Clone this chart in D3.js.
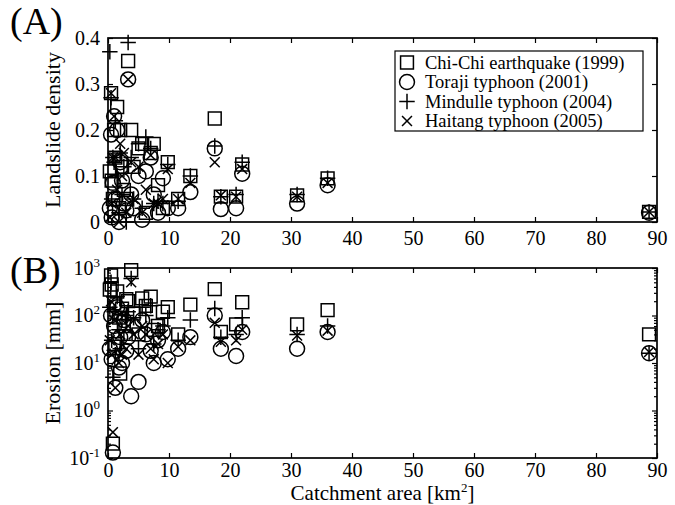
<!DOCTYPE html>
<html>
<head>
<meta charset="utf-8">
<script src="https://cdn.jsdelivr.net/npm/d3@7"></script>
<style>
  body { margin: 0; background: #fff; }
  svg text { font-family: "Liberation Serif", "Times New Roman", serif; fill: #000; }
</style>
</head>
<body>
<div id="chart"></div>
<script>
// catchment areas (km2), shared by every event
const areas = [0.3, 0.5, 0.6, 0.8, 1.0, 1.2, 1.5, 1.8, 2.0, 2.3, 2.6, 3.0, 3.3, 3.8, 4.2, 5.0,
  5.6, 6.2, 7.0, 7.5, 8.2, 9.0, 9.8, 11.5, 13.5, 17.5, 18.5, 21.0, 22.0, 31.0, 36.0, 88.7];

const seriesNames = ["Chi-Chi earthquake (1999)", "Toraji typhoon (2001)", "Mindulle typhoon (2004)", "Haitang typhoon (2005)"];

// landslide density per catchment
const densityChiChi   = [0.11, 0.28, 0.09, 0.05, 0.20, 0.14, 0.25, 0.03, 0.20, 0.12, 0.07, 0.05, 0.35, 0.20, 0.12, 0.16,
  0.17, 0.02, 0.15, 0.17, 0.08, 0.03, 0.13, 0.05, 0.10, 0.225, 0.055, 0.055, 0.125, 0.058, 0.095, 0.022];
const densityToraji   = [0.03, 0.19, 0.01, 0.085, 0.23, 0.05, 0.20, 0.00, 0.13, 0.09, 0.04, 0.025, 0.31, 0.06, 0.03, 0.10,
  0.005, 0.11, 0.14, 0.06, 0.02, 0.095, 0.03, 0.03, 0.065, 0.16, 0.028, 0.03, 0.105, 0.04, 0.08, 0.02];
const densityMindulle = [0.37, 0.27, 0.05, 0.14, 0.13, 0.22, 0.10, 0.02, 0.15, 0.06, 0.12, 0.00, 0.39, 0.14, 0.05, 0.17,
  0.03, 0.185, 0.16, 0.04, 0.045, 0.04, 0.125, 0.045, 0.10, 0.165, 0.055, 0.06, 0.13, 0.06, 0.095, 0.022];
const densityHaitang  = [0.01, 0.28, 0.04, 0.14, 0.23, 0.14, 0.07, 0.00, 0.17, 0.10, 0.15, 0.02, 0.31, 0.13, 0.05, 0.12,
  0.02, 0.07, 0.145, 0.04, 0.04, 0.05, 0.115, 0.05, 0.085, 0.13, 0.058, 0.055, 0.115, 0.055, 0.085, 0.022];

// erosion (mm) per catchment
const erosionChiChi   = [350, 700, 450, 0.2, 180, 25, 320, 90, 6, 140, 60, 220, 200, 900, 110, 40,
  230, 160, 250, 50, 60, 120, 150, 40, 170, 360, 45, 65, 190, 65, 130, 40];
const erosionToraji   = [20, 100, 12, 0.13, 60, 3, 150, 8, 35, 10, 80, 18, 35, 2, 60, 4,
  80, 40, 18, 10, 30, 45, 12, 20, 35, 100, 20, 14, 45, 20, 45, 16];
const erosionMindulle = [150, 500, 30, 5, 120, 15, 250, 50, 20, 80, 30, 100, 120, 600, 90, 20,
  150, 100, 160, 25, 50, 60, 90, 30, 80, 140, 35, 40, 90, 40, 60, 16];
const erosionHaitang  = [30, 200, 15, 0.35, 80, 3, 120, 10, 40, 15, 100, 20, 60, 500, 40, 15,
  60, 40, 20, 12, 25, 40, 10, 22, 30, 70, 28, 30, 50, 38, 48, 17];

const xTicks = [0, 10, 20, 30, 40, 50, 60, 70, 80, 90];
const densityTicks = [0, 0.1, 0.2, 0.3, 0.4];
const erosionTicks = [0.1, 1, 10, 100, 1000];

const densities = [densityChiChi, densityToraji, densityMindulle, densityHaitang];
const erosions = [erosionChiChi, erosionToraji, erosionMindulle, erosionHaitang];
const symbols = [d3.symbolSquare, d3.symbolCircle, d3.symbolPlus, d3.symbolTimes];
const symbolSizes = [165, 175, 80, 66];

const W = 675, H = 505;
const left = 108, right = 657;
const topA = 38, bottomA = 222;
const topB = 268, bottomB = 458;
const fs = 20;

const svg = d3.select("#chart").append("svg")
  .attr("width", W).attr("height", H);

const x = d3.scaleLinear().domain([0, 90]).range([left, right]);
const yA = d3.scaleLinear().domain([0, 0.4]).range([bottomA, topA]);
const yB = d3.scaleLog().domain([0.1, 1000]).range([bottomB, topB]);

function sym(i) { return d3.symbol().type(symbols[i]).size(symbolSizes[i])(); }

// box + ticks for one panel
function frame(y, top, bottom, yTickVals, yFormat, minor, xPad) {
  const g = svg.append("g");
  // x ticks, bottom and top, pointing inward
  g.append("g").attr("transform", `translate(0,${bottom})`)
    .call(d3.axisBottom(x).tickValues(xTicks).tickSize(-5).tickPadding(xPad).tickFormat(d3.format("d")));
  g.append("g").attr("transform", `translate(0,${top})`)
    .call(d3.axisTop(x).tickValues(xTicks).tickSize(-5).tickFormat(""));
  // y ticks
  const yl = g.append("g").attr("transform", `translate(${left},0)`)
    .call(d3.axisLeft(y).tickValues(yTickVals).tickSize(-5).tickPadding(8).tickFormat(yFormat));
  g.append("g").attr("transform", `translate(${right},0)`)
    .call(d3.axisRight(y).tickValues(yTickVals).tickSize(-5).tickFormat(""));
  if (minor) {
    const mins = [];
    for (let e = -1; e < 3; e++) for (let k = 2; k < 10; k++) mins.push(k * Math.pow(10, e));
    g.append("g").attr("transform", `translate(${left},0)`)
      .call(d3.axisLeft(y).tickValues(mins).tickSize(-3).tickFormat(""));
    g.append("g").attr("transform", `translate(${right},0)`)
      .call(d3.axisRight(y).tickValues(mins).tickSize(-3).tickFormat(""));
  }
  g.selectAll(".domain").remove();
  g.selectAll(".tick line").attr("stroke", "#000").attr("stroke-width", 1.2);
  g.selectAll(".tick text").attr("font-size", fs).attr("font-family", "Liberation Serif, serif");
  g.append("rect")
    .attr("x", left).attr("y", top)
    .attr("width", right - left).attr("height", bottom - top)
    .attr("fill", "none").attr("stroke", "#000").attr("stroke-width", 1.7);
  return yl;
}

// ---- panel A
frame(yA, topA, bottomA, densityTicks, d => d === 0 ? "0" : d3.format(".1f")(d), false, 9);

densities.forEach((vals, i) => {
  svg.append("g").selectAll("path")
    .data(areas.map((a, j) => [a, vals[j]]))
    .join("path")
    .attr("d", sym(i))
    .attr("transform", d => `translate(${x(d[0])},${yA(d[1])})`)
    .attr("fill", "none").attr("stroke", "#000").attr("stroke-width", 1.5);
});

// ---- panel B
const ylB = frame(yB, topB, bottomB, erosionTicks, () => "", true, 5);
ylB.selectAll(".tick text").each(function (d) {
  const t = d3.select(this);
  t.text("10");
  t.append("tspan").attr("dy", -8).attr("font-size", 13).text(Math.round(Math.log10(d)));
});

erosions.forEach((vals, i) => {
  svg.append("g").selectAll("path")
    .data(areas.map((a, j) => [a, vals[j]]))
    .join("path")
    .attr("d", sym(i))
    .attr("transform", d => `translate(${x(d[0])},${yB(d[1])})`)
    .attr("fill", "none").attr("stroke", "#000").attr("stroke-width", 1.5);
});

// ---- legend
const lg = svg.append("g").attr("transform", "translate(395,51)");
lg.append("rect").attr("width", 248).attr("height", 80)
  .attr("fill", "#fff").attr("stroke", "#000").attr("stroke-width", 1.2);
seriesNames.forEach((name, i) => {
  const yy = 11.5 + i * 19.5;
  lg.append("path").attr("d", sym(i))
    .attr("transform", `translate(12,${yy})`)
    .attr("fill", "none").attr("stroke", "#000").attr("stroke-width", 1.5);
  lg.append("text").attr("x", 30).attr("y", yy + 6).attr("font-size", 18.5).text(name);
});

// ---- titles
svg.append("text").attr("x", 10).attr("y", 34).attr("font-size", 38).text("(A)");
svg.append("text").attr("x", 10).attr("y", 283).attr("font-size", 38).text("(B)");

svg.append("text")
  .attr("transform", `translate(60,${(topA + bottomA) / 2}) rotate(-90)`)
  .attr("text-anchor", "middle").attr("font-size", 22).text("Landslide density");
svg.append("text")
  .attr("transform", `translate(60,${(topB + bottomB) / 2}) rotate(-90)`)
  .attr("text-anchor", "middle").attr("font-size", 22).text("Erosion [mm]");

const xt = svg.append("text").attr("x", (left + right) / 2).attr("y", 500)
  .attr("text-anchor", "middle").attr("font-size", 21);
xt.append("tspan").text("Catchment area [km");
xt.append("tspan").attr("dy", -8).attr("font-size", 13).text("2");
xt.append("tspan").attr("dy", 8).text("]");
</script>
</body>
</html>
